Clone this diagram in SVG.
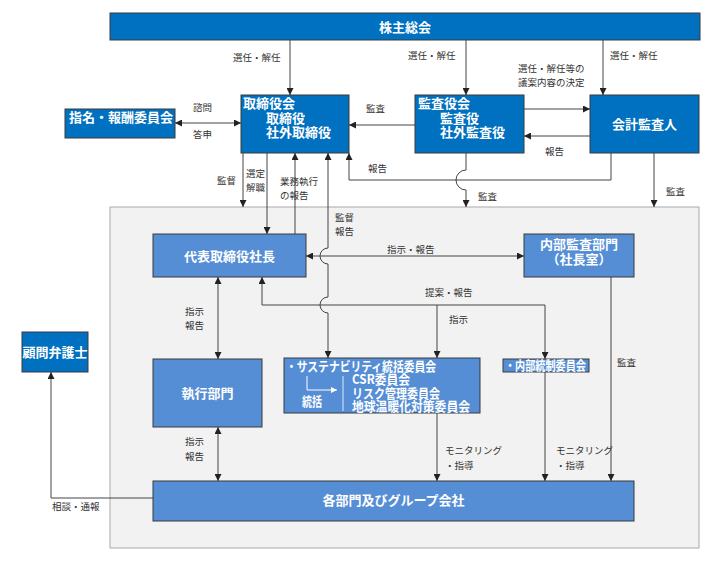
<svg xmlns="http://www.w3.org/2000/svg" width="722" height="563" viewBox="0 0 722 563">
<defs>
<marker id="ah" viewBox="0 0 10 10" refX="10" refY="5" markerWidth="7" markerHeight="7" orient="auto-start-reverse" markerUnits="userSpaceOnUse"><path d="M0,0 L10,5 L0,10 z" fill="#222"/></marker>
<marker id="aw" viewBox="0 0 10 10" refX="10" refY="5" markerWidth="6" markerHeight="6" orient="auto" markerUnits="userSpaceOnUse"><path d="M0,0 L10,5 L0,10 z" fill="#fff"/></marker>
</defs>
<style>
text{font-family:"Noto Sans CJK JP","Noto Sans",sans-serif}
.dk{fill:#0070c0;stroke:#3a3a3a;stroke-width:1}
.lt{fill:#558ed5;stroke:#3a3a3a;stroke-width:1}
.wt{fill:#fff;font-weight:bold;font-size:13px}
.lb{fill:#333;font-size:9.5px}
.ln{fill:none;stroke:#444;stroke-width:1}
.ar{marker-end:url(#ah)}
.ab{marker-end:url(#ah);marker-start:url(#ah)}
</style>
<rect x="110" y="207" width="589" height="341" fill="#f2f2f2" stroke="#aaa" stroke-width="1"/>

<g id="connectors">
<path class="ln ar" d="M290,40 V95"/>
<path class="ln ar" d="M466,40 V95"/>
<path class="ln ar" d="M603,40 V95"/>
<path class="ln ar" d="M524,109 H590"/>
<path class="ln ar" d="M590,136 H524"/>
<path class="ln ar" d="M415,125 H349"/>
<path class="ln ab" d="M175,123 H241"/>
<path class="ln ar" d="M466,153 V170 A10,10 0 0 0 466,190 V207"/>
<path class="ln ar" d="M611,153 V180 H349 V153"/>
<path class="ln ar" d="M654,153 V207"/>
<path class="ln ar" d="M243,153 V207"/>
<path class="ln ar" d="M267,153 V234"/>
<path class="ln ar" d="M295,234 V153"/>
<path class="ln ab" d="M328,153 V248 A8,8 0 0 0 328,264 V297 A8,8 0 0 0 328,313 V358"/>
<path class="ln ab" d="M306,256 H524"/>
<path class="ln ab" d="M262,277 V305 H545 V359"/>
<path class="ln ar" d="M437,305 V358"/>
<path class="ln ar" d="M611,277 V481"/>
<path class="ln ar" d="M545,372 V481"/>
<path class="ln ar" d="M437,413 V481"/>
<path class="ln ab" d="M218,277 V359"/>
<path class="ln ab" d="M218,427 V481"/>
<path class="ln ar" d="M153,498 H51 V372"/>
</g>

<g id="labels">
<text class="lb" x="233" y="61">選任・解任</text>
<text class="lb" x="408" y="59">選任・解任</text>
<text class="lb" x="610" y="59">選任・解任</text>
<text class="lb" x="518" y="72">選任・解任等の</text>
<text class="lb" x="518" y="86">議案内容の決定</text>
<text class="lb" x="545" y="155">報告</text>
<text class="lb" x="366" y="112">監査</text>
<text class="lb" x="193" y="111">諮問</text>
<text class="lb" x="193" y="138">答申</text>
<text class="lb" x="368" y="172">報告</text>
<text class="lb" x="478" y="200">監査</text>
<text class="lb" x="666" y="195">監査</text>
<text class="lb" x="217" y="184">監督</text>
<text class="lb" x="246" y="177">選定</text>
<text class="lb" x="246" y="191">解職</text>
<text class="lb" x="280" y="185">業務執行</text>
<text class="lb" x="280" y="199">の報告</text>
<text class="lb" x="335" y="221">監督</text>
<text class="lb" x="335" y="235">報告</text>
<text class="lb" x="387" y="253">指示・報告</text>
<text class="lb" x="425" y="296">提案・報告</text>
<text class="lb" x="449" y="323">指示</text>
<text class="lb" x="617" y="366">監査</text>
<text class="lb" x="445" y="454">モニタリング</text>
<text class="lb" x="445" y="469">・指導</text>
<text class="lb" x="556" y="454">モニタリング</text>
<text class="lb" x="556" y="469">・指導</text>
<text class="lb" x="185" y="315">指示</text>
<text class="lb" x="185" y="329">報告</text>
<text class="lb" x="185" y="445">指示</text>
<text class="lb" x="185" y="460">報告</text>
<text class="lb" x="52" y="510">相談・通報</text>
</g>

<g id="shareholders">
<rect class="dk" x="110" y="13" width="590" height="27"/>
<text class="wt" x="379" y="32">株主総会</text>
</g>
<g id="board">
<rect class="dk" x="241" y="95" width="108" height="58"/>
<text class="wt" x="243" y="108" font-size="12.5">取締役会</text>
<text class="wt" x="266" y="122.5" font-size="12.5">取締役</text>
<text class="wt" x="266" y="137" font-size="12.5">社外取締役</text>
</g>
<g id="nomination">
<rect class="dk" x="65" y="109" width="110" height="29"/>
<text class="wt" x="69" y="122" font-size="12">指名・報酬委員会</text>
</g>
<g id="auditors">
<rect class="dk" x="415" y="95" width="109" height="58"/>
<text class="wt" x="418" y="108" font-size="12.5">監査役会</text>
<text class="wt" x="440" y="122.5" font-size="12.5">監査役</text>
<text class="wt" x="440" y="137" font-size="12.5">社外監査役</text>
</g>
<g id="accounting">
<rect class="dk" x="590" y="95" width="109" height="58"/>
<text class="wt" x="644.5" y="129" text-anchor="middle">会計監査人</text>
</g>
<g id="president">
<rect class="lt" x="153" y="234" width="153" height="43"/>
<text class="wt" x="229.5" y="261" text-anchor="middle">代表取締役社長</text>
</g>
<g id="internal-audit">
<rect class="lt" x="524" y="234" width="110" height="43"/>
<text class="wt" x="579" y="249" text-anchor="middle">内部監査部門</text>
<text class="wt" x="579" y="264" text-anchor="middle">（社長室）</text>
</g>
<g id="execution">
<rect class="lt" x="153" y="359" width="109" height="68"/>
<text class="wt" x="207.5" y="398" text-anchor="middle">執行部門</text>
</g>
<g id="sustainability">
<rect class="lt" x="284" y="358" width="196" height="55"/>
<text class="wt" x="286" y="370.5" font-size="9.3" textLength="150" lengthAdjust="spacingAndGlyphs">・サステナビリティ統括委員会</text>
<text class="wt" x="352" y="384" font-size="9.3" textLength="58" lengthAdjust="spacingAndGlyphs">CSR委員会</text>
<text class="wt" x="352" y="397.5" font-size="9.3" textLength="88" lengthAdjust="spacingAndGlyphs">リスク管理委員会</text>
<text class="wt" x="352" y="411" font-size="9.3" textLength="118" lengthAdjust="spacingAndGlyphs">地球温暖化対策委員会</text>
<path d="M307,376 V390 H337" fill="none" stroke="#fff" stroke-width="1" marker-end="url(#aw)"/>
<path d="M343,376 V411" fill="none" stroke="#dde8f5" stroke-width="1"/>
<text class="wt" x="302" y="406" font-size="10" textLength="20" lengthAdjust="spacingAndGlyphs">統括</text>
</g>
<g id="internal-control">
<rect class="lt" x="503" y="359" width="86" height="13"/>
<text class="wt" x="505" y="369.5" font-size="9.5" textLength="81" lengthAdjust="spacingAndGlyphs">・内部統制委員会</text>
</g>
<g id="group">
<rect class="lt" x="153" y="481" width="481" height="40"/>
<text class="wt" x="393.5" y="505" text-anchor="middle">各部門及びグループ会社</text>
</g>
<g id="lawyer">
<rect class="dk" x="22" y="332" width="66" height="40"/>
<text class="wt" x="55" y="357" text-anchor="middle" font-size="12.5">顧問弁護士</text>
</g>
</svg>
